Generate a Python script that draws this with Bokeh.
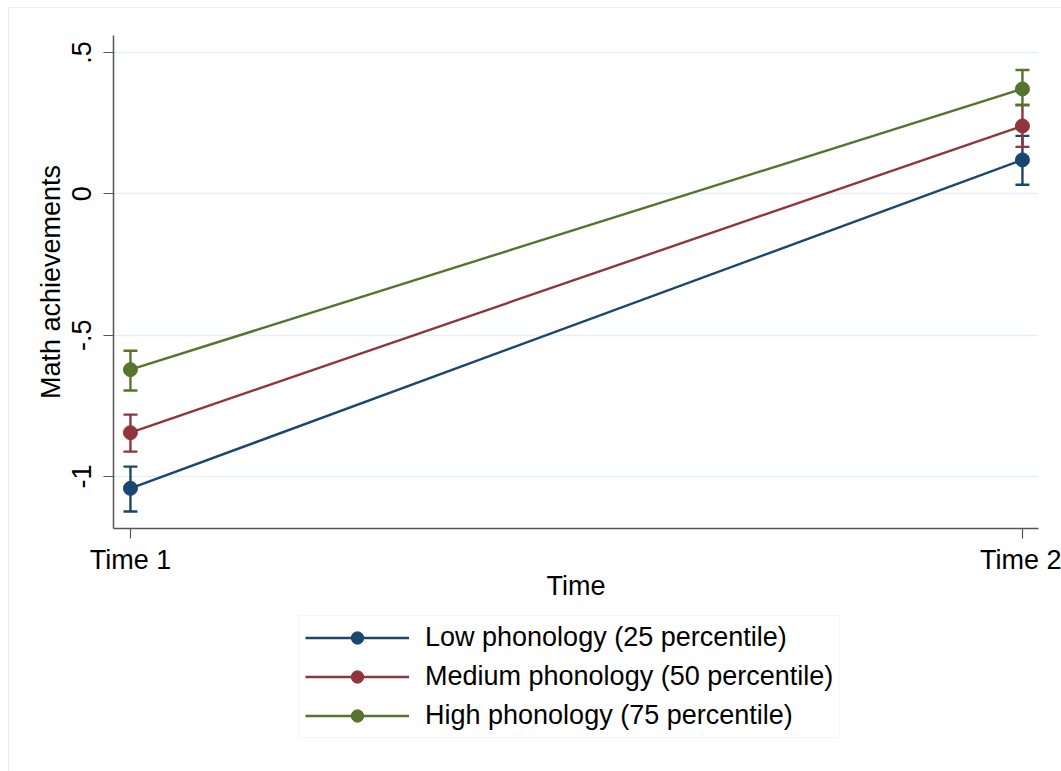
from bokeh.plotting import figure
from bokeh.models import (ColumnDataSource, Whisker, Legend, LegendItem,
                          FixedTicker, Range1d, TeeHead)
from bokeh.layouts import column
from bokeh.embed import file_html
from bokeh.resources import INLINE

# ---- data ----
times = ["Time 1", "Time 2"]
time_x = [1, 2]
series_names = ["Low phonology (25 percentile)",
                "Medium phonology (50 percentile)",
                "High phonology (75 percentile)"]
low_mean = [-1.042, 0.120]
low_lo = [-1.124, 0.032]
low_hi = [-0.965, 0.205]
med_mean = [-0.845, 0.240]
med_lo = [-0.912, 0.166]
med_hi = [-0.781, 0.314]
high_mean = [-0.622, 0.371]
high_lo = [-0.696, 0.314]
high_hi = [-0.555, 0.438]
y_ticks = [-1, -0.5, 0, 0.5]
y_tick_labels = ["-1", "-.5", "0", ".5"]
colors = ["#1a476f", "#90353b", "#55752f"]

FONT = "Liberation Sans"
FRAME = "#e6eff1"
LW = 2.4

LEFT_LINE = "linear-gradient(to right, transparent 8px, %s 8px, %s 9px, transparent 9px) 0 0 / 100%% 100%% no-repeat" % (FRAME, FRAME)

p = figure(width=1061, height=610, output_backend="svg", toolbar_location=None,
           x_range=Range1d(0.981, 2.018), y_range=Range1d(-1.184, 0.56),
           min_border_left=113, min_border_right=23, min_border_top=35,
           min_border_bottom=82)
p.outline_line_color = None
p.background_fill_color = "white"
p.border_fill_color = None
p.styles = {
    "background": ("linear-gradient(to right, transparent 8px, %s 8px, %s 9px, transparent 9px) 0 7px / 100%% 100%% no-repeat, "
                   "linear-gradient(to bottom, transparent 7px, %s 7px, %s 8px, transparent 8px) 8px 0 / 100%% 100%% no-repeat, white")
                  % (FRAME, FRAME, FRAME, FRAME)
}

# grid
p.xgrid.grid_line_color = None
p.ygrid.grid_line_color = FRAME
p.ygrid.grid_line_width = 1.5
p.ygrid.ticker = FixedTicker(ticks=y_ticks)

# axes
for ax in (p.xaxis, p.yaxis):
    ax.axis_line_color = "#555555"
    ax.axis_line_width = 1.5
    ax.major_tick_line_color = "#555555"
    ax.major_tick_line_width = 1.2
    ax.major_tick_out = 10
    ax.major_tick_in = 0
    ax.minor_tick_line_color = None
    ax.major_label_text_font = FONT
    ax.major_label_text_font_size = "27px"
    ax.major_label_text_color = "black"
    ax.axis_label_text_font = FONT
    ax.axis_label_text_font_size = "27px"
    ax.axis_label_text_font_style = "normal"
    ax.axis_label_text_color = "black"

p.xaxis.ticker = FixedTicker(ticks=time_x)
p.xaxis.major_label_overrides = {x: t for x, t in zip(time_x, times)}
p.xaxis.axis_label = "Time"
p.xaxis.major_label_standoff = 6
p.xaxis.axis_label_standoff = -7

p.yaxis.ticker = FixedTicker(ticks=y_ticks)
p.yaxis.major_label_overrides = {v: s for v, s in zip(y_ticks, y_tick_labels)}
p.yaxis.major_label_orientation = "vertical"
p.yaxis.axis_label = "Math achievements"
p.yaxis.major_label_standoff = 12
p.yaxis.axis_label_standoff = 4

# legend strip (its ranges hold no data, so only the legend shows)
q = figure(width=1061, height=161, output_backend="svg", toolbar_location=None,
           x_range=Range1d(-3, -2), y_range=Range1d(-3, -2),
           x_axis_type=None, y_axis_type=None, min_border=0)
q.outline_line_color = None
q.grid.visible = False
q.background_fill_color = None
q.border_fill_color = None
q.styles = {"background": LEFT_LINE + ", white"}

items = []
for name, mean, lo, hi, col in zip(
        series_names,
        [low_mean, med_mean, high_mean],
        [low_lo, med_lo, high_lo],
        [low_hi, med_hi, high_hi],
        colors):
    src = ColumnDataSource(dict(x=time_x, y=mean, lo=lo, hi=hi))
    w = Whisker(source=src, base="x", lower="lo", upper="hi",
                line_color=col, line_width=LW,
                upper_head=TeeHead(size=14, line_color=col, line_width=LW),
                lower_head=TeeHead(size=14, line_color=col, line_width=LW))
    p.add_layout(w)
    p.line("x", "y", source=src, line_color=col, line_width=LW)
    p.scatter("x", "y", source=src, size=14, fill_color=col,
              line_color=col, marker="circle")
    l1 = q.line("x", "y", source=src, line_color=col, line_width=LW)
    l2 = q.scatter("x", "y", source=src, size=14, fill_color=col,
                   line_color=col, marker="circle")
    items.append(LegendItem(label=name, renderers=[l1, l2]))

legend = Legend(items=items, location=(185, 33))
legend.label_text_font = FONT
legend.label_text_font_size = "27px"
legend.label_text_color = "black"
legend.glyph_width = 104
legend.glyph_height = 31
legend.label_height = 31
legend.label_standoff = 16
legend.spacing = 8
legend.padding = 6
legend.margin = 0
legend.border_line_color = FRAME
legend.border_line_width = 1.5
legend.background_fill_color = "white"
legend.background_fill_alpha = 1
q.add_layout(legend, "center")

layout = column(p, q, spacing=0)
open("out.html", "w").write(file_html(layout, INLINE))
